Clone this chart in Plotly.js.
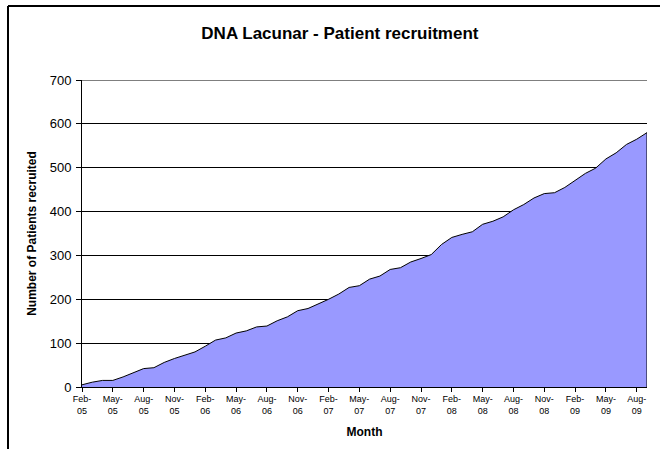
<!DOCTYPE html>
<html>
<head>
<meta charset="utf-8">
<script src="https://cdn.plot.ly/plotly-3.0.1.min.js"></script>
<style>
html,body{margin:0;padding:0;background:#fff;}
#chart{width:660px;height:449px;}
</style>
</head>
<body>
<div id="chart"></div>
<script>
var months = [
  "Feb-05","Mar-05","Apr-05","May-05","Jun-05","Jul-05","Aug-05","Sep-05","Oct-05","Nov-05","Dec-05","Jan-06",
  "Feb-06","Mar-06","Apr-06","May-06","Jun-06","Jul-06","Aug-06","Sep-06","Oct-06","Nov-06","Dec-06","Jan-07",
  "Feb-07","Mar-07","Apr-07","May-07","Jun-07","Jul-07","Aug-07","Sep-07","Oct-07","Nov-07","Dec-07","Jan-08",
  "Feb-08","Mar-08","Apr-08","May-08","Jun-08","Jul-08","Aug-08","Sep-08","Oct-08","Nov-08","Dec-08","Jan-09",
  "Feb-09","Mar-09","Apr-09","May-09","Jun-09","Jul-09","Aug-09","Sep-09"
];
var patients = [
  5,11,15,15,23,32,42,44,56,65,72,80,
  93,107,112,123,128,137,139,151,160,174,179,189,
  200,212,227,231,246,253,268,272,285,293,302,325,
  341,348,354,371,378,388,404,416,431,441,443,455,
  472,487,499,520,534,553,565,580
];
var tickMonths = ["Feb-05","May-05","Aug-05","Nov-05","Feb-06","May-06","Aug-06","Nov-06","Feb-07","May-07","Aug-07","Nov-07","Feb-08","May-08","Aug-08","Nov-08","Feb-09","May-09","Aug-09"];
var tickLabels = tickMonths.map(function(m){ return m.replace("-", "-<br>"); });
var yTicks = [0,100,200,300,400,500,600,700];

var last = months.length - 1;
var yMax = yTicks[yTicks.length - 1];
var traces = [
  {
    type: "scatter", mode: "lines", x: months, y: patients,
    fill: "tozeroy", fillcolor: "#9999FF",
    line: {color: "#000000", width: 1}, hoverinfo: "skip", showlegend: false
  },
  {
    type: "scatter", mode: "lines", x: [months[last], months[last]], y: [0, patients[last]],
    line: {color: "#000000", width: 1}, hoverinfo: "skip", showlegend: false
  }
];

var layout = {
  width: 660, height: 449,
  margin: {l: 82, r: 13, t: 80, b: 62, pad: 0},
  paper_bgcolor: "#ffffff", plot_bgcolor: "#ffffff",
  font: {family: "Liberation Sans, Arial, sans-serif", color: "#000000"},
  showlegend: false,
  title: {
    text: "<b>DNA Lacunar - Patient recruitment</b>",
    font: {size: 17, family: "Liberation Sans, Arial, sans-serif", color: "#000"},
    x: 0.515, xanchor: "center", y: 1 - 33/449, yanchor: "middle"
  },
  xaxis: {
    type: "category", range: [0, last],
    tickmode: "array", tickvals: tickMonths, ticktext: tickLabels,
    tickfont: {size: 9}, tickangle: 0,
    ticks: "outside", ticklen: 4, tickcolor: "#000", tickwidth: 1,
    ticklabelstandoff: -1,
    showgrid: false, zeroline: false,
    showline: true, linecolor: "#000", linewidth: 1,
    title: {text: "<b>Month</b>", font: {size: 12}, standoff: 13}
  },
  yaxis: {
    range: [0, yMax], tickmode: "array", tickvals: yTicks,
    tickfont: {size: 13},
    ticks: "outside", ticklen: 5, tickcolor: "#000", tickwidth: 1,
    ticklabelstandoff: 2,
    showgrid: true, gridcolor: "#000000", gridwidth: 1,
    zeroline: false, showline: true, linecolor: "#000", linewidth: 1,
    title: {text: "<b>Number of Patients recruited</b>", font: {size: 12}, standoff: 10}
  },
  shapes: [
    {type: "line", xref: "paper", yref: "y", x0: 0, x1: 1, y0: yMax, y1: yMax,
     line: {color: "#000", width: 1}},
    {type: "line", xref: "paper", yref: "paper", x0: (8-82)/565, x1: (8-82)/565, y0: -0.5, y1: 1 + (80-6)/307,
     line: {color: "#000", width: 2}},
    {type: "line", xref: "paper", yref: "paper", x0: (8-82)/565, x1: 1.2, y0: 1 + (80-6)/307, y1: 1 + (80-6)/307,
     line: {color: "#000", width: 2}}
  ]
};

Plotly.newPlot("chart", traces, layout, {staticPlot: true, displayModeBar: false});
</script>
</body>
</html>
